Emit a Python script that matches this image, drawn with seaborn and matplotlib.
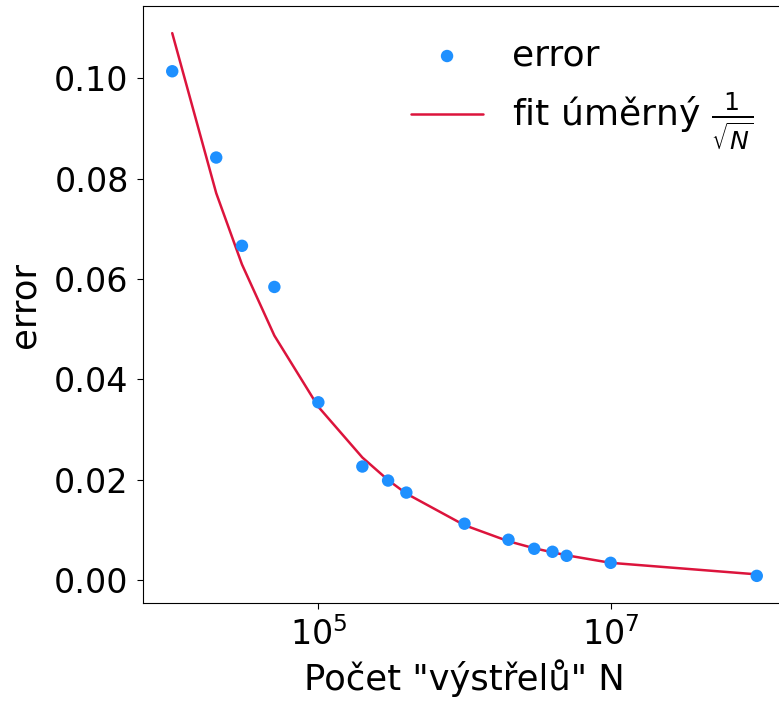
import numpy as np
import pandas as pd
import matplotlib
matplotlib.use("Agg")
import matplotlib.pyplot as plt
import seaborn as sns

N_values = [1e4, 2e4, 3e4, 5e4, 1e5, 2e5, 3e5, 4e5, 1e6, 2e6, 3e6, 4e6, 5e6, 1e7, 1e8]
error_values = [0.1014, 0.0842, 0.0666, 0.0584, 0.0354, 0.0226, 0.0198, 0.0174,
                0.0112, 0.0080, 0.0062, 0.0056, 0.0048, 0.0034, 0.0008]
fit_values = [0.1090, 0.0771, 0.0629, 0.0487, 0.0345, 0.0244, 0.0199, 0.0172,
              0.0109, 0.0077, 0.0063, 0.0055, 0.0049, 0.0034, 0.0011]

df = pd.DataFrame({"N": N_values, "error": error_values, "fit": fit_values})

sns.set_style("white")
plt.rcParams['font.family'] = ['DejaVu Sans']
plt.rcParams['mathtext.fontset'] = 'dejavusans'
plt.rcParams['text.color'] = 'black'
plt.rcParams['axes.labelcolor'] = 'black'
plt.rcParams['xtick.color'] = 'black'
plt.rcParams['ytick.color'] = 'black'

fig = plt.figure(figsize=(7.79, 7.01), dpi=100)
ax = fig.add_axes([143/779, (701-603)/701, (786-143)/779, (603-6)/701])

sns.scatterplot(data=df, x="N", y="error", ax=ax, color="#1E90FF", s=80,
                edgecolor="none", label="error", zorder=3)
sns.lineplot(data=df, x="N", y="fit", ax=ax, color="#DC143C", linewidth=1.8,
             label=r"fit úměrný $\frac{1}{\sqrt{N}}$", zorder=2)

ax.set_xscale("log")
ax.set_xticks([1e5, 1e7])
ax.set_xticklabels([r"$10^5$", r"$10^7$"])
ax.minorticks_off()
ax.set_yticks([0.0, 0.02, 0.04, 0.06, 0.08, 0.10])
ax.set_yticklabels(["0.00", "0.02", "0.04", "0.06", "0.08", "0.10"])
ax.tick_params(axis="both", labelsize=24, length=4.3, width=0.8, pad=6,
               left=True, bottom=True)
ax.set_xlabel('Počet "výstřelů" N', fontsize=25.5, labelpad=5)
ax.set_ylabel("error", fontsize=25.5, labelpad=9)
for s in ax.spines.values():
    s.set_color("black")
    s.set_linewidth(0.8)

ax.legend(fontsize=26, frameon=False, loc="upper right", bbox_to_anchor=(1.0, 1.0))

fig.savefig("out.png", dpi=100)
